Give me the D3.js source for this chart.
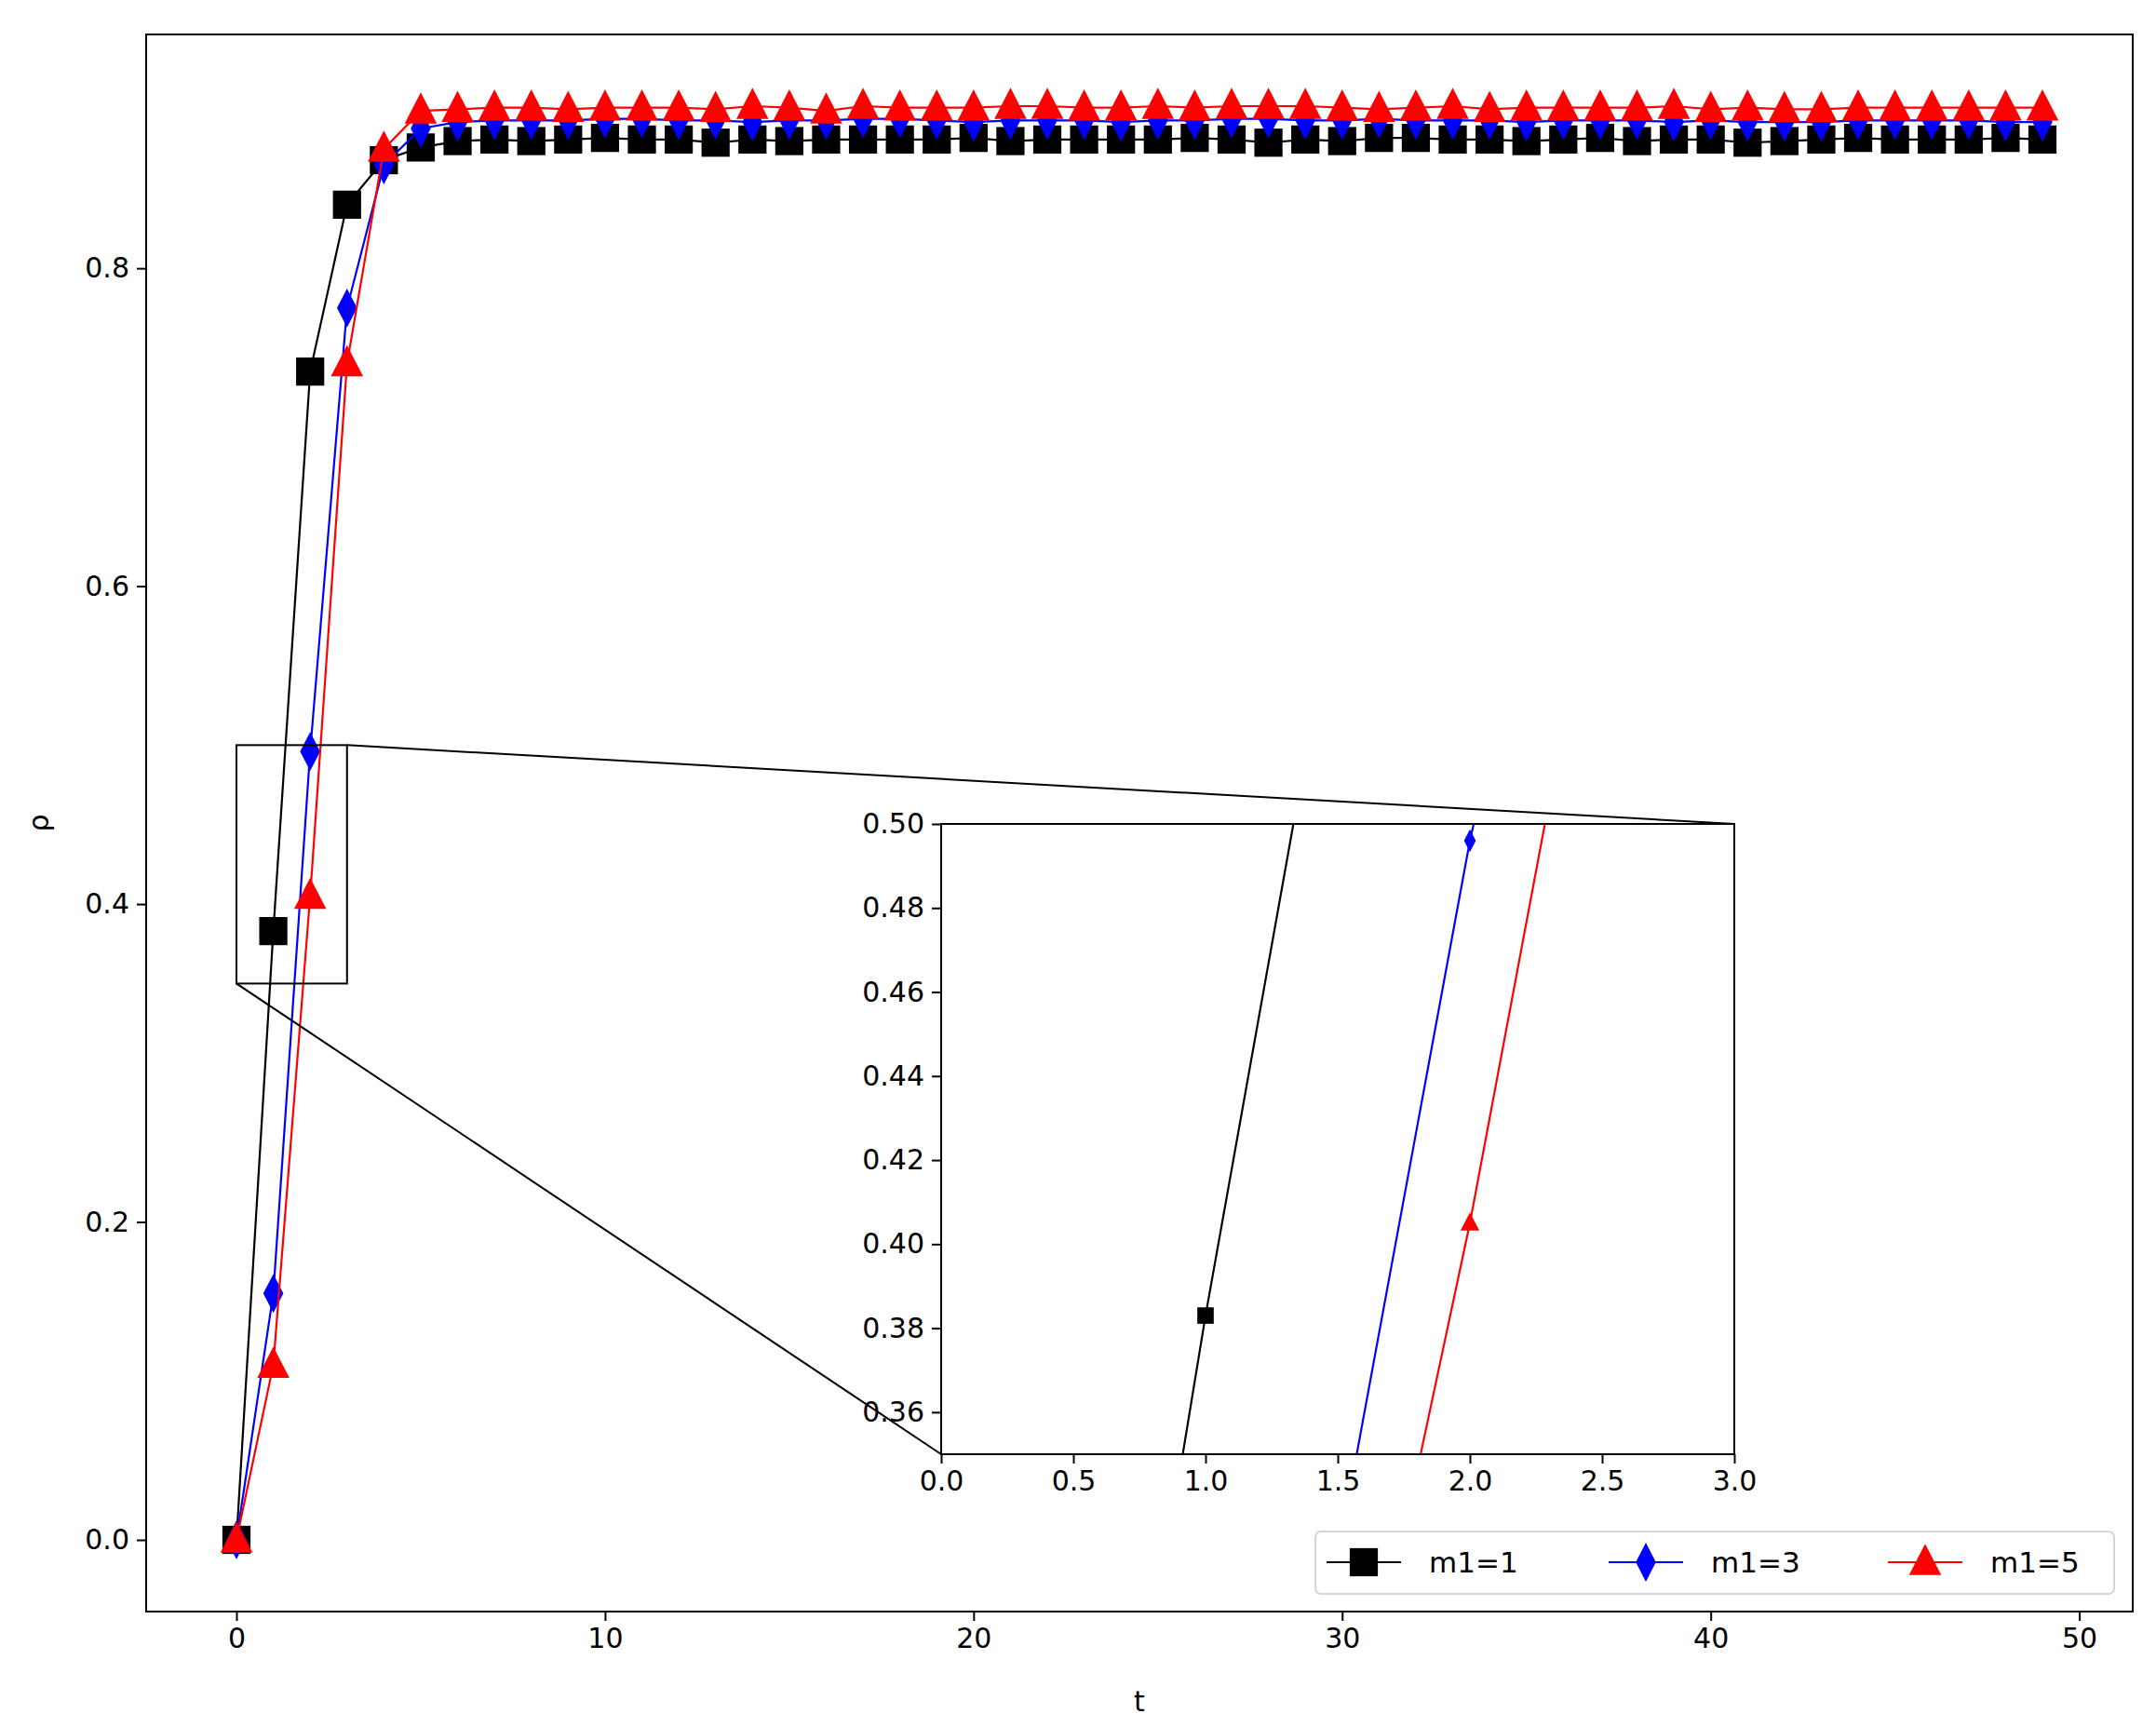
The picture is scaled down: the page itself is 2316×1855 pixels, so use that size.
<!DOCTYPE html>
<html><head><meta charset="utf-8">
<script src="https://cdn.jsdelivr.net/npm/d3@7"></script>
<style>body{margin:0;background:#fff}</style></head>
<body><script>
const tVals = d3.range(50);
const seriesNames = ["m1=1","m1=3","m1=5"];
const black = [0,0.383,0.735,0.840,0.868,0.876,0.880,0.881,0.880,0.881,0.882,0.881,0.881,0.879,0.881,0.880,0.881,0.881,0.881,0.881,0.882,0.880,0.881,0.881,0.881,0.881,0.882,0.881,0.879,0.881,0.880,0.882,0.882,0.881,0.881,0.880,0.881,0.882,0.880,0.881,0.881,0.879,0.880,0.881,0.882,0.881,0.881,0.881,0.882,0.881];
const blue = [0,0.155,0.496,0.775,0.865,0.888,0.892,0.893,0.893,0.893,0.894,0.894,0.893,0.893,0.892,0.893,0.893,0.894,0.894,0.893,0.892,0.893,0.893,0.893,0.892,0.893,0.893,0.894,0.894,0.893,0.893,0.894,0.893,0.893,0.893,0.892,0.893,0.893,0.893,0.892,0.893,0.892,0.892,0.892,0.893,0.893,0.893,0.893,0.892,0.892];
const red = [0,0.110,0.405,0.740,0.875,0.899,0.900,0.901,0.901,0.900,0.901,0.901,0.901,0.900,0.902,0.901,0.899,0.902,0.901,0.901,0.901,0.902,0.902,0.901,0.901,0.902,0.901,0.902,0.902,0.902,0.901,0.900,0.901,0.902,0.900,0.901,0.901,0.901,0.901,0.902,0.900,0.901,0.900,0.900,0.901,0.901,0.901,0.901,0.901,0.901];
const xTicks = [0,10,20,30,40,50];
const yTicks = [0,0.2,0.4,0.6,0.8];
const inXTicks = [0,0.5,1,1.5,2,2.5,3];
const inYTicks = [0.36,0.38,0.40,0.42,0.44,0.46,0.48,0.50];

const W=2316,H=1855;
const svg=d3.select("body").append("svg").attr("width",W).attr("height",H).style("font-family","DejaVu Sans");
const L=157,R=2291,T=37,B=1731;
const x=d3.scaleLinear().domain([-2.45,51.45]).range([L,R]);
const y=d3.scaleLinear().domain([-0.0451,0.9471]).range([B,T]);
const colors=["black","blue","red"];
const data=[black,blue,red];
const shapes=["square","diamond","triangle"];

function marker(g,shape,cx,cy,s,col){
  if(shape==="square") g.append("rect").attr("x",cx-s*0.42).attr("y",cy-s*0.42).attr("width",s*0.84).attr("height",s*0.84).attr("fill",col);
  else if(shape==="diamond") g.append("path").attr("d",`M${cx},${cy-s*0.58}L${cx+s*0.3},${cy}L${cx},${cy+s*0.58}L${cx-s*0.3},${cy}Z`).attr("fill",col);
  else g.append("path").attr("d",`M${cx},${cy-s*0.55}L${cx+s*0.48},${cy+s*0.38}L${cx-s*0.48},${cy+s*0.38}Z`).attr("fill",col);
}
function drawSeries(g,xs,ys,size,lw){
  data.forEach((arr,i)=>{
    const line=d3.line().x((d,j)=>xs(tVals[j])).y(d=>ys(d));
    g.append("path").attr("d",line(arr)).attr("fill","none").attr("stroke",colors[i]).attr("stroke-width",lw);
    arr.forEach((v,j)=>marker(g,shapes[i],xs(tVals[j]),ys(v),size,colors[i]));
  });
}
drawSeries(svg.append("g"),x,y,36,2.2);

svg.append("rect").attr("x",L).attr("y",T).attr("width",R-L).attr("height",B-T).attr("fill","none").attr("stroke","black").attr("stroke-width",2);
const fs=30;
const ax=svg.append("g").attr("transform",`translate(0,${B})`).call(d3.axisBottom(x).tickValues(xTicks).tickSize(10).tickPadding(8).tickFormat(d3.format("d")));
const ay=svg.append("g").attr("transform",`translate(${L},0)`).call(d3.axisLeft(y).tickValues(yTicks).tickSize(10).tickPadding(8).tickFormat(d3.format(".1f")));
[ax,ay].forEach(a=>{a.select(".domain").remove();a.selectAll("text").attr("font-size",fs).attr("font-family","DejaVu Sans");a.selectAll("line").attr("stroke-width",2);});
svg.append("text").attr("x",(L+R)/2).attr("y",1838).attr("text-anchor","middle").attr("font-size",fs).text("t");
svg.append("text").attr("transform",`translate(52,${(T+B)/2}) rotate(-90)`).attr("text-anchor","middle").attr("font-size",fs).text("ρ");

const iL=1011,iR=1863,iT=885,iB=1562;
const xi=d3.scaleLinear().domain([0,3]).range([iL,iR]);
const yi=d3.scaleLinear().domain([0.35,0.5]).range([iB,iT]);
svg.append("rect").attr("x",x(0)).attr("y",y(0.5)).attr("width",x(3)-x(0)).attr("height",y(0.35)-y(0.5)).attr("fill","none").attr("stroke","black").attr("stroke-width",2);
svg.append("line").attr("x1",x(3)).attr("y1",y(0.5)).attr("x2",iR).attr("y2",iT).attr("stroke","black").attr("stroke-width",2);
svg.append("line").attr("x1",x(0)).attr("y1",y(0.35)).attr("x2",iL).attr("y2",iB).attr("stroke","black").attr("stroke-width",2);
svg.append("rect").attr("x",iL).attr("y",iT).attr("width",iR-iL).attr("height",iB-iT).attr("fill","white");
svg.append("clipPath").attr("id","ic").append("rect").attr("x",iL).attr("y",iT).attr("width",iR-iL).attr("height",iB-iT);
drawSeries(svg.append("g").attr("clip-path","url(#ic)"),xi,yi,21,2.2);
svg.append("rect").attr("x",iL).attr("y",iT).attr("width",iR-iL).attr("height",iB-iT).attr("fill","none").attr("stroke","black").attr("stroke-width",2);
const bx=svg.append("g").attr("transform",`translate(0,${iB})`).call(d3.axisBottom(xi).tickValues(inXTicks).tickSize(10).tickPadding(8).tickFormat(d3.format(".1f")));
const by=svg.append("g").attr("transform",`translate(${iL},0)`).call(d3.axisLeft(yi).tickValues(inYTicks).tickSize(10).tickPadding(8).tickFormat(d3.format(".2f")));
[bx,by].forEach(a=>{a.select(".domain").remove();a.selectAll("text").attr("font-size",fs).attr("font-family","DejaVu Sans");a.selectAll("line").attr("stroke-width",2);});

const lg=svg.append("g");
lg.append("rect").attr("x",1413).attr("y",1645).attr("width",858).attr("height",67).attr("rx",6).attr("fill","white").attr("fill-opacity",0.8).attr("stroke","#d5d5d5").attr("stroke-width",2);
const lx=[1425,1728,2028];
seriesNames.forEach((n,i)=>{
  const cy=1678;
  lg.append("line").attr("x1",lx[i]).attr("x2",lx[i]+80).attr("y1",cy).attr("y2",cy).attr("stroke",colors[i]).attr("stroke-width",2.2);
  marker(lg,shapes[i],lx[i]+40,cy,36,colors[i]);
  lg.append("text").attr("x",lx[i]+110).attr("y",cy+11).attr("font-size",fs+1).text(n);
});
</script></body></html>
